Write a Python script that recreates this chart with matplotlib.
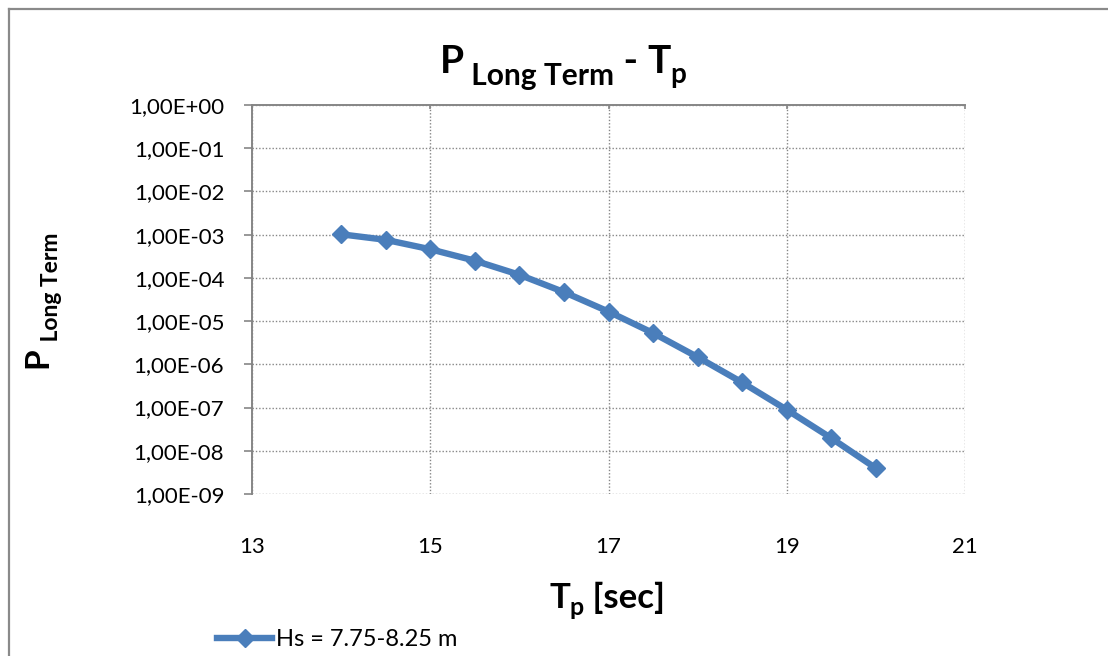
import matplotlib
matplotlib.use("Agg")
import matplotlib.pyplot as plt
from matplotlib.lines import Line2D
from matplotlib.ticker import FixedLocator, FuncFormatter, NullLocator

plt.rcParams["font.family"] = ["Lato", "DejaVu Sans"]

# long-term probability vs peak period, Hs = 7.75-8.25 m
tp = [14.0, 14.5, 15.0, 15.5, 16.0, 16.5, 17.0, 17.5, 18.0, 18.5, 19.0, 19.5, 20.0]
p_long = [1.02e-3, 7.6e-4, 4.6e-4, 2.5e-4, 1.18e-4, 4.7e-5, 1.66e-5,
          5.3e-6, 1.47e-6, 3.8e-7, 8.9e-8, 1.96e-8, 3.95e-9]
series_label = "Hs = 7.75-8.25 m"
x_ticks = [13, 15, 17, 19, 21]
y_ticks = [10.0 ** e for e in range(0, -10, -1)]

W, H = 1108, 656
BLUE = "#4A7EBB"
GREY = "#868686"

fig = plt.figure(figsize=(W / 100, H / 100), dpi=100)
fig.patch.set_facecolor("white")

# outer chart frame (only top and left edges visible)
fig.add_artist(Line2D([8.5 / W, 8.5 / W], [1 - 9 / H, 0], transform=fig.transFigure,
                      color="#8a8a8a", lw=1.6))
fig.add_artist(Line2D([8.5 / W, 1], [1 - 9 / H, 1 - 9 / H], transform=fig.transFigure,
                      color="#8a8a8a", lw=1.6))

ax = fig.add_axes([252 / W, 1 - 494 / H, (965 - 252) / W, (494 - 105) / H])
ax.set_yscale("log")
ax.set_xlim(13, 21)
ax.set_ylim(1e-9, 1e0)

ax.plot(tp, p_long, color=BLUE, lw=4.6, marker="D", ms=9.5,
        mfc=BLUE, mec=BLUE, label=series_label, clip_on=False, zorder=3)

ax.xaxis.set_major_locator(FixedLocator(x_ticks))
ax.yaxis.set_major_locator(FixedLocator(y_ticks))
ax.yaxis.set_minor_locator(NullLocator())


def sci_comma(v, pos):
    s = "%.2E" % v
    return s.replace(".", ",")


ax.yaxis.set_major_formatter(FuncFormatter(sci_comma))
ax.xaxis.set_major_formatter(FuncFormatter(lambda v, p: "%d" % v))

ax.grid(True, which="major", color=GREY, ls=(0, (1, 1.4)), lw=1.0)
ax.set_axisbelow(True)

for side in ("bottom", "right"):
    ax.spines[side].set_visible(False)
for side in ("top", "left"):
    ax.spines[side].set_color(GREY)
    ax.spines[side].set_linewidth(1.4)

ax.tick_params(axis="y", direction="out", length=6, width=1.2, color=GREY,
               labelsize=16, pad=14, labelcolor="black")
ax.tick_params(axis="x", bottom=False, top=True, labelbottom=True, labeltop=False,
               direction="in", length=3, width=1.2, color=GREY,
               labelsize=16, pad=31, labelcolor="black")

# legend below the axis title
leg = fig.legend(handles=[Line2D([], [], color=BLUE, lw=4.6, marker="D", ms=9.5)],
                 labels=[series_label], loc="center left",
                 bbox_to_anchor=(217 / W, 1 - 640 / H), frameon=False,
                 fontsize=17, handlelength=2.35, handletextpad=0.15,
                 borderpad=0, borderaxespad=0)

fig.canvas.draw()
rend = fig.canvas.get_renderer()


def rich_run(pieces, cx, cy, rotation=0):
    """Lay out (text, size, shift) pieces on one baseline, centred at (cx, cy)."""
    arts = []
    for s, size, shift in pieces:
        t = fig.text(0, 0, s, fontsize=size, weight="bold", rotation=rotation,
                     ha="left", va="baseline", rotation_mode="anchor")
        arts.append(t)
    widths = []
    for t in arts:
        bb = t.get_window_extent(rend)
        widths.append(bb.height if rotation else bb.width)
    total = sum(w for w in widths)
    pos = -total / 2
    for t, w, (s, size, shift) in zip(arts, widths, pieces):
        if rotation:
            t.set_position(((cx + shift) / W, 1 - (cy - pos) / H))
        else:
            t.set_position(((cx + pos) / W, 1 - (cy + shift) / H))
        pos += w


# title: P_Long Term - T_p
rich_run([("P", 28, 0), (" Long Term", 21.5, 12), (" - ", 28, 0),
          ("T", 28, 0), ("p", 20, 10)], 563, 73)
# x axis title: T_p [sec]
rich_run([("T", 25, 0), ("p", 18, 7), (" [sec]", 25, 0)], 607, 608)
# y axis title: P_Long Term (rotated)
rich_run([("P", 24, 0), (" Long Term", 16.5, 11)], 47, 300, rotation=90)

fig.savefig("out.png", dpi=100, facecolor="white")
